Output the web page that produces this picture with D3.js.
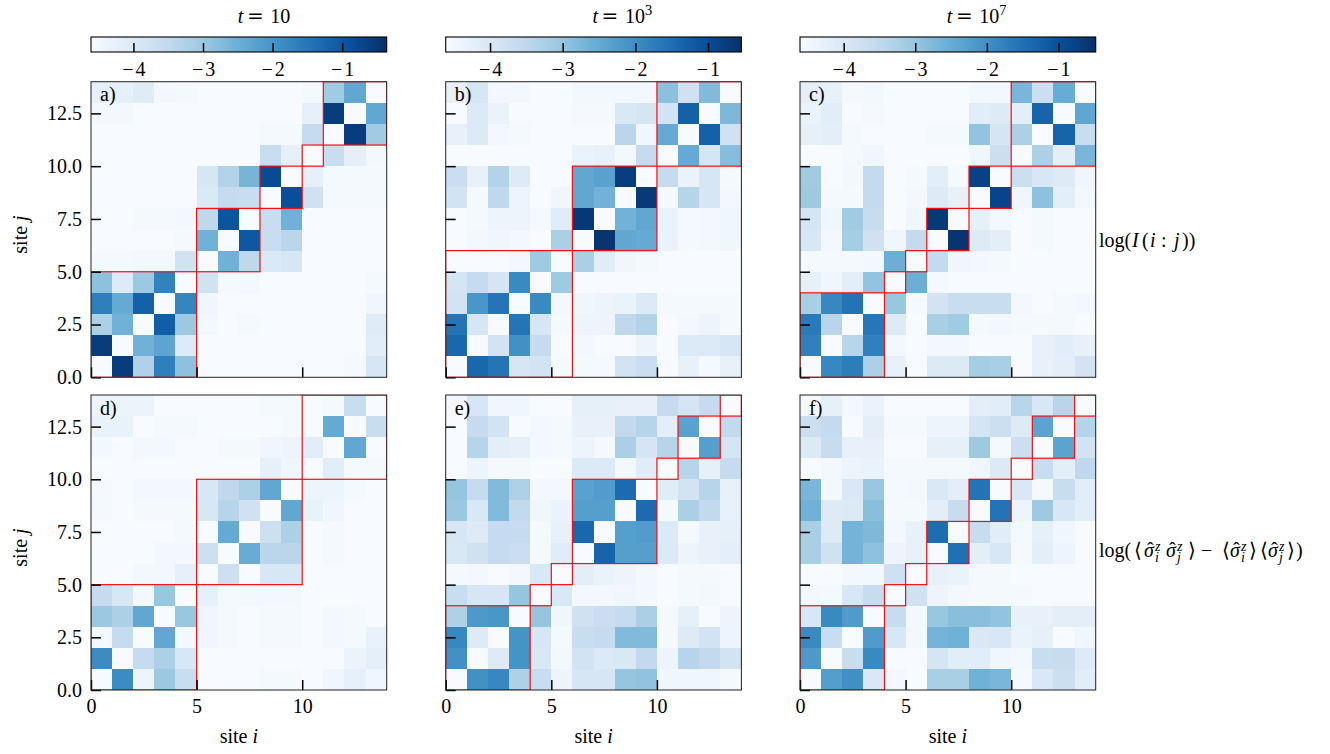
<!DOCTYPE html>
<html>
<head>
<meta charset="utf-8">
<script src="https://cdnjs.cloudflare.com/ajax/libs/d3/7.8.5/d3.min.js"></script>
<style>
  body { margin: 0; background: #fff; }
  text { font-family: "Liberation Serif", serif; fill: #000; }
</style>
</head>
<body>
<div id="chart"></div>
<script>
// log values per panel, rows from j=13 (top) down to j=0 (bottom)
const panelA = [
  [-4.25,-4.25,-4.1,-4.5,-4.55,-4.6,-4.6,-4.6,-4.6,-4.6,-4.55,-3.05,-2.35,-4.6],
  [-4.5,-4.5,-4.6,-4.6,-4.6,-4.6,-4.6,-4.6,-4.6,-4.6,-4.25,-0.55,-4.6,-2.35],
  [-4.6,-4.6,-4.6,-4.6,-4.6,-4.6,-4.6,-4.6,-4.55,-4.55,-3.55,-4.6,-0.55,-3.05],
  [-4.6,-4.6,-4.6,-4.6,-4.6,-4.6,-4.6,-4.6,-3.6,-4.25,-4.6,-3.6,-4.2,-4.5],
  [-4.6,-4.6,-4.6,-4.6,-4.6,-3.9,-3.3,-2.6,-0.8,-4.6,-4.25,-4.55,-4.55,-4.55],
  [-4.6,-4.6,-4.6,-4.6,-4.6,-4.0,-3.55,-3.6,-4.6,-0.85,-3.75,-4.55,-4.55,-4.55],
  [-4.6,-4.6,-4.55,-4.55,-4.5,-3.45,-0.95,-4.6,-3.6,-2.55,-4.6,-4.6,-4.6,-4.6],
  [-4.6,-4.6,-4.6,-4.6,-4.55,-2.55,-4.6,-1.0,-3.6,-3.4,-4.6,-4.6,-4.6,-4.6],
  [-4.55,-4.55,-4.5,-4.5,-3.8,-4.6,-2.55,-3.45,-4.0,-3.9,-4.6,-4.6,-4.6,-4.6],
  [-2.85,-4.05,-3.0,-1.7,-4.6,-3.8,-4.55,-4.5,-4.6,-4.6,-4.6,-4.6,-4.6,-4.55],
  [-1.65,-2.4,-1.15,-4.6,-1.75,-4.45,-4.6,-4.6,-4.6,-4.6,-4.6,-4.6,-4.6,-4.45],
  [-3.2,-2.55,-4.6,-1.1,-3.0,-4.5,-4.6,-4.55,-4.6,-4.6,-4.6,-4.6,-4.6,-4.1],
  [-0.55,-4.6,-2.55,-2.3,-4.05,-4.6,-4.6,-4.6,-4.6,-4.6,-4.6,-4.6,-4.6,-4.15],
  [-4.6,-0.55,-3.25,-1.65,-2.85,-4.6,-4.6,-4.6,-4.6,-4.6,-4.6,-4.6,-4.55,-3.9]
];
const panelB = [
  [-4.3,-3.95,-4.5,-4.5,-4.6,-4.6,-4.5,-4.5,-4.5,-4.5,-2.9,-3.8,-2.8,-4.6],
  [-4.6,-4.05,-4.35,-4.6,-4.6,-4.6,-4.55,-4.55,-4.0,-3.9,-3.85,-1.3,-4.6,-2.75],
  [-4.3,-4.05,-4.5,-4.55,-4.6,-4.6,-4.6,-4.6,-3.45,-4.45,-2.5,-4.6,-1.3,-3.8],
  [-4.6,-4.6,-4.6,-4.6,-4.6,-4.6,-4.35,-4.3,-4.5,-3.6,-4.6,-2.5,-3.9,-2.85],
  [-3.7,-4.3,-3.35,-4.1,-4.6,-4.6,-2.45,-2.35,-0.75,-4.6,-3.6,-4.35,-3.95,-4.55],
  [-3.85,-4.55,-3.5,-4.4,-4.6,-4.45,-2.45,-2.65,-4.6,-0.7,-4.55,-3.4,-3.95,-4.5],
  [-4.6,-4.55,-4.4,-4.4,-4.55,-4.15,-0.65,-4.6,-2.65,-2.45,-4.35,-4.55,-4.5,-4.45],
  [-4.6,-4.5,-4.45,-4.5,-4.6,-3.25,-4.6,-0.6,-2.45,-2.5,-4.35,-4.55,-4.5,-4.45],
  [-4.6,-4.6,-4.6,-4.5,-3.1,-4.6,-3.25,-4.15,-4.45,-4.55,-4.6,-4.6,-4.6,-4.6],
  [-3.9,-3.6,-3.9,-1.95,-4.6,-3.1,-4.6,-4.6,-4.6,-4.6,-4.6,-4.6,-4.6,-4.6],
  [-3.85,-2.15,-1.6,-4.6,-1.95,-4.5,-4.45,-4.4,-4.35,-4.05,-4.55,-4.55,-4.55,-4.55],
  [-1.6,-3.95,-4.6,-1.6,-3.95,-4.55,-4.4,-4.4,-3.5,-3.35,-4.6,-4.5,-4.4,-4.55],
  [-1.4,-4.6,-3.85,-2.05,-3.6,-4.6,-4.5,-4.6,-4.6,-4.4,-4.6,-4.05,-4.05,-3.95],
  [-4.6,-1.4,-1.6,-3.95,-3.85,-4.55,-4.55,-4.55,-3.85,-3.7,-4.6,-4.3,-4.55,-4.3]
];
const panelC = [
  [-4.2,-4.3,-4.55,-4.5,-4.6,-4.6,-4.6,-4.6,-4.5,-4.5,-2.7,-3.7,-2.5,-4.6],
  [-4.35,-4.15,-4.6,-4.55,-4.6,-4.6,-4.6,-4.6,-4.15,-4.1,-4.2,-1.3,-4.6,-2.4],
  [-4.25,-4.2,-4.55,-4.6,-4.6,-4.6,-4.55,-4.55,-2.95,-3.9,-3.25,-4.6,-1.3,-3.65],
  [-4.6,-4.6,-4.55,-4.45,-4.6,-4.6,-4.6,-4.6,-4.45,-3.7,-4.6,-3.25,-4.2,-2.7],
  [-3.1,-4.6,-4.5,-3.55,-4.6,-4.55,-4.2,-4.55,-0.75,-4.6,-3.7,-3.95,-4.1,-4.45],
  [-3.05,-4.55,-4.55,-3.55,-4.6,-4.5,-4.1,-4.3,-4.6,-0.8,-4.45,-2.9,-4.2,-4.5],
  [-3.9,-4.45,-3.1,-3.6,-4.6,-4.45,-0.6,-4.6,-4.25,-4.5,-4.6,-4.55,-4.6,-4.6],
  [-3.95,-4.5,-3.15,-3.8,-4.45,-3.55,-4.6,-0.55,-4.1,-4.2,-4.6,-4.55,-4.6,-4.6],
  [-4.55,-4.55,-4.55,-4.5,-2.55,-4.6,-3.55,-4.45,-4.5,-4.55,-4.6,-4.6,-4.6,-4.6],
  [-4.25,-4.45,-4.2,-2.95,-4.6,-2.55,-4.55,-4.6,-4.6,-4.6,-4.6,-4.6,-4.6,-4.6],
  [-3.2,-1.85,-1.55,-4.6,-3.0,-4.55,-3.85,-3.65,-3.65,-3.65,-4.5,-4.6,-4.55,-4.5],
  [-1.65,-3.4,-4.6,-1.6,-4.1,-4.6,-3.2,-3.1,-4.55,-4.5,-4.55,-4.55,-4.55,-4.6],
  [-1.75,-4.6,-3.4,-1.75,-4.5,-4.6,-4.5,-4.5,-4.6,-4.6,-4.6,-4.3,-4.15,-4.3],
  [-4.6,-1.85,-1.7,-3.25,-4.3,-4.6,-4.05,-4.05,-3.15,-3.2,-4.6,-4.3,-4.2,-3.85]
];
const panelD = [
  [-4.4,-4.35,-4.35,-4.6,-4.6,-4.6,-4.6,-4.6,-4.55,-4.55,-4.6,-4.55,-3.6,-4.6],
  [-4.3,-4.3,-4.6,-4.55,-4.55,-4.6,-4.6,-4.6,-4.6,-4.55,-4.6,-2.4,-4.6,-3.6],
  [-4.5,-4.6,-4.5,-4.5,-4.6,-4.6,-4.55,-4.55,-4.45,-4.4,-4.15,-4.6,-2.35,-4.6],
  [-4.6,-4.6,-4.6,-4.6,-4.6,-4.6,-4.6,-4.6,-4.25,-4.45,-4.6,-4.15,-4.55,-4.55],
  [-4.55,-4.6,-4.5,-4.5,-4.5,-3.95,-3.45,-3.2,-2.35,-4.6,-4.4,-4.4,-4.55,-4.6],
  [-4.55,-4.6,-4.55,-4.55,-4.55,-3.95,-3.35,-3.75,-4.6,-2.35,-4.3,-4.45,-4.6,-4.6],
  [-4.6,-4.6,-4.6,-4.6,-4.55,-4.6,-2.4,-4.6,-3.7,-3.2,-4.6,-4.55,-4.6,-4.6],
  [-4.6,-4.6,-4.6,-4.5,-4.5,-3.7,-4.6,-2.45,-3.4,-3.4,-4.6,-4.55,-4.6,-4.6],
  [-4.6,-4.6,-4.5,-4.5,-4.25,-4.6,-3.7,-4.6,-3.95,-3.95,-4.6,-4.6,-4.6,-4.6],
  [-3.55,-3.95,-4.5,-2.95,-4.6,-4.25,-4.55,-4.5,-4.5,-4.5,-4.6,-4.6,-4.6,-4.6],
  [-3.0,-3.2,-2.35,-4.6,-2.95,-4.45,-4.55,-4.6,-4.55,-4.55,-4.6,-4.5,-4.55,-4.6],
  [-4.5,-3.55,-4.6,-2.35,-4.5,-4.45,-4.55,-4.6,-4.55,-4.55,-4.6,-4.5,-4.55,-4.3],
  [-1.85,-4.6,-3.55,-3.2,-3.95,-4.6,-4.6,-4.6,-4.6,-4.6,-4.6,-4.6,-4.35,-4.2],
  [-4.6,-1.85,-4.4,-3.0,-3.6,-4.6,-4.6,-4.6,-4.55,-4.55,-4.6,-4.45,-4.25,-4.45]
];
const panelE = [
  [-4.5,-3.95,-4.45,-4.45,-4.6,-4.6,-4.25,-4.25,-4.3,-4.3,-3.6,-3.9,-3.6,-4.6],
  [-4.6,-3.6,-3.85,-4.6,-4.5,-4.55,-4.3,-4.3,-3.55,-3.4,-4.2,-2.35,-4.6,-3.55],
  [-4.6,-3.4,-4.2,-4.25,-4.5,-4.55,-4.4,-4.55,-3.25,-3.9,-3.4,-4.6,-2.3,-3.9],
  [-4.6,-4.4,-4.55,-4.55,-4.6,-4.6,-4.05,-4.05,-4.5,-4.15,-4.6,-3.4,-4.25,-3.6],
  [-3.0,-3.6,-2.8,-3.3,-4.5,-4.5,-2.35,-2.25,-1.45,-4.6,-4.15,-3.85,-3.4,-4.3],
  [-3.05,-4.0,-2.8,-3.55,-4.45,-4.35,-2.3,-2.3,-4.6,-1.45,-4.55,-3.25,-3.55,-4.3],
  [-3.95,-4.1,-3.6,-3.6,-4.55,-4.3,-1.4,-4.6,-2.3,-2.25,-4.05,-4.55,-4.3,-4.25],
  [-4.0,-3.8,-3.6,-3.7,-4.55,-4.15,-4.6,-1.35,-2.3,-2.3,-4.05,-4.4,-4.3,-4.2],
  [-4.55,-4.5,-4.6,-4.5,-4.0,-4.6,-4.2,-4.35,-4.4,-4.5,-4.6,-4.55,-4.55,-4.6],
  [-3.65,-3.95,-3.95,-3.0,-4.6,-4.0,-4.5,-4.5,-4.45,-4.5,-4.6,-4.55,-4.5,-4.6],
  [-3.3,-2.2,-2.15,-4.6,-3.0,-4.45,-3.8,-3.7,-3.6,-3.25,-4.55,-4.25,-4.6,-4.4],
  [-1.9,-4.1,-4.6,-2.1,-3.95,-4.55,-3.65,-3.6,-2.8,-2.8,-4.55,-4.1,-3.85,-4.4],
  [-2.05,-4.6,-4.1,-2.1,-4.0,-4.5,-3.85,-4.05,-4.0,-3.55,-4.4,-3.4,-3.55,-3.85],
  [-4.6,-2.05,-1.9,-3.3,-3.65,-4.4,-3.95,-3.95,-3.0,-2.95,-4.45,-4.45,-4.45,-4.55]
];
const panelF = [
  [-4.5,-4.25,-4.5,-4.35,-4.6,-4.6,-4.6,-4.6,-4.2,-4.15,-3.4,-3.95,-3.4,-4.6],
  [-3.7,-3.55,-4.6,-4.2,-4.55,-4.55,-4.4,-4.4,-3.9,-3.7,-4.1,-2.35,-4.6,-3.35],
  [-4.05,-3.6,-4.3,-4.3,-4.6,-4.6,-4.25,-4.25,-3.05,-4.55,-3.7,-4.6,-2.35,-3.85],
  [-4.6,-4.5,-4.4,-4.35,-4.55,-4.55,-4.55,-4.55,-4.45,-4.05,-4.6,-3.65,-4.2,-3.5],
  [-2.7,-4.5,-4.0,-3.0,-4.55,-4.5,-4.0,-4.2,-1.55,-4.6,-4.0,-4.55,-3.65,-4.15],
  [-2.6,-4.1,-4.05,-2.85,-4.55,-4.55,-4.2,-3.6,-4.6,-1.55,-4.4,-3.05,-3.95,-4.15],
  [-3.2,-4.1,-2.65,-2.75,-4.5,-4.3,-1.45,-4.6,-3.6,-4.15,-4.55,-4.25,-4.45,-4.6],
  [-3.2,-3.8,-2.65,-2.9,-4.4,-4.3,-4.6,-1.5,-4.2,-3.95,-4.55,-4.2,-4.4,-4.6],
  [-4.6,-4.6,-4.5,-4.5,-3.75,-4.6,-4.3,-4.35,-4.55,-4.55,-4.6,-4.6,-4.6,-4.6],
  [-4.5,-4.55,-3.95,-3.6,-4.6,-3.8,-4.4,-4.5,-4.55,-4.55,-4.55,-4.6,-4.6,-4.6],
  [-3.95,-1.9,-2.2,-4.6,-3.6,-4.5,-3.0,-2.85,-2.85,-2.95,-4.3,-4.3,-4.2,-4.2],
  [-1.9,-3.65,-4.6,-2.2,-3.95,-4.5,-2.65,-2.6,-4.0,-3.95,-4.35,-4.25,-4.6,-4.45],
  [-2.15,-4.6,-3.65,-1.9,-4.6,-4.6,-3.9,-4.15,-4.15,-4.45,-4.5,-3.65,-3.6,-4.1],
  [-4.6,-2.25,-2.0,-4.0,-4.5,-4.6,-3.2,-3.2,-2.6,-2.7,-4.55,-4.0,-3.7,-4.15]
];

// block boundaries for the red outlines
const blocksA = [0, 5, 8, 10, 11, 14];
const blocksB = [0, 6, 10, 14];
const blocksC = [0, 4, 5, 6, 8, 10, 14];
const blocksD = [0, 5, 10, 14];
const blocksE = [0, 4, 5, 6, 10, 11, 13, 14];
const blocksF = [0, 4, 5, 6, 8, 10, 11, 13, 14];

const panelNames = ["a)", "b)", "c)", "d)", "e)", "f)"];
const xTicks = [0, 5, 10];
const yTicks = [0, 2.5, 5, 7.5, 10, 12.5];
const cbarTicks = [-4, -3, -2, -1];
const cbarMin = [-4.61, -4.61, -4.61];
const cbarMax = [-0.36, -0.54, -0.48];
const titleExp = [null, "3", "7"];

const fontSize = 20;
const nSites = 14;
const colLeft = [91, 445.7, 800];
const colWidth = 295.7;
const rowTop = [81.7, 395];
const rowHeight = [295.6, 295];

const svg = d3.select("#chart").append("svg")
  .attr("width", 1330)
  .attr("height", 754)
  .style("display", "block");

// matplotlib's Blues, same brewer stops as d3's 9 class scheme
function blues(vmin, vmax) {
  const stops = d3.schemeBlues[9];
  return d3.scaleLinear()
    .domain(stops.map((c, k) => vmin + (vmax - vmin) * k / 8))
    .range(stops)
    .clamp(true);
}

function styleAxis(g) {
  g.select(".domain").remove();
  g.selectAll(".tick line").attr("stroke", "#000").attr("stroke-width", 1.5);
  g.selectAll(".tick text")
    .attr("font-family", "Liberation Serif")
    .attr("font-size", fontSize)
    .attr("fill", "#000");
}

function drawPanel(values, blocks, col, row, name) {
  const x0 = colLeft[col], y0 = rowTop[row], h = rowHeight[row];
  const x = d3.scaleLinear().domain([0, nSites]).range([x0, x0 + colWidth]);
  const y = d3.scaleLinear().domain([0, nSites]).range([y0 + h, y0]);
  const color = blues(cbarMin[col], cbarMax[col]);
  const clipId = "clip" + col + row;

  svg.append("clipPath").attr("id", clipId).append("rect")
    .attr("x", x0).attr("y", y0).attr("width", colWidth).attr("height", h);

  const cells = [];
  values.forEach((r, k) => r.forEach((v, i) => cells.push({i: i, j: nSites - 1 - k, v: v})));

  svg.append("g").attr("shape-rendering", "crispEdges")
    .selectAll("rect").data(cells).join("rect")
    .attr("x", d => x(d.i))
    .attr("y", d => y(d.j + 1))
    .attr("width", d => x(d.i + 1) - x(d.i))
    .attr("height", d => y(d.j) - y(d.j + 1))
    .attr("fill", d => color(d.v));

  // red outline around every block on the diagonal
  svg.append("g").attr("clip-path", "url(#" + clipId + ")")
    .selectAll("rect").data(d3.pairs(blocks)).join("rect")
    .attr("x", d => x(d[0]))
    .attr("y", d => y(d[1]))
    .attr("width", d => x(d[1]) - x(d[0]))
    .attr("height", d => y(d[0]) - y(d[1]))
    .attr("fill", "none")
    .attr("stroke", "#f50f0f")
    .attr("stroke-width", 1.2);

  svg.append("g")
    .attr("transform", "translate(0," + (y0 + h) + ")")
    .call(d3.axisBottom(x).tickValues(xTicks).tickSize(-10).tickPadding(9)
      .tickFormat(row == 1 ? d3.format("d") : ""))
    .call(styleAxis);

  svg.append("g")
    .attr("transform", "translate(" + x0 + ",0)")
    .call(d3.axisLeft(y).tickValues(yTicks).tickSize(-10).tickPadding(9)
      .tickFormat(col == 0 ? d3.format(".1f") : ""))
    .call(styleAxis);

  svg.append("rect")
    .attr("x", x0).attr("y", y0).attr("width", colWidth).attr("height", h)
    .attr("fill", "none").attr("stroke", "#222").attr("stroke-width", 1);

  svg.append("text")
    .attr("x", x0 + 9)
    .attr("y", y0 + 19.5)
    .attr("font-size", fontSize)
    .text(name);
}

function drawColorbar(col) {
  const x0 = colLeft[col], top = 37, h = 15;
  const x = d3.scaleLinear().domain([cbarMin[col], cbarMax[col]]).range([x0, x0 + colWidth]);
  const color = blues(cbarMin[col], cbarMax[col]);
  const id = "cbar" + col;
  svg.append("linearGradient").attr("id", id)
    .selectAll("stop").data(d3.range(0, 1.001, 0.125)).join("stop")
    .attr("offset", d => d)
    .attr("stop-color", d => color(cbarMin[col] + d * (cbarMax[col] - cbarMin[col])));
  svg.append("rect")
    .attr("x", x0).attr("y", top).attr("width", colWidth).attr("height", h)
    .attr("fill", "url(#" + id + ")");
  svg.append("g")
    .attr("transform", "translate(0," + (top + h) + ")")
    .call(d3.axisBottom(x).tickValues(cbarTicks).tickSize(-9).tickPadding(9.8).tickFormat(d3.format("d")))
    .call(styleAxis)
    .selectAll(".tick text").attr("letter-spacing", 2).attr("dx", 1);
  svg.append("rect")
    .attr("x", x0).attr("y", top).attr("width", colWidth).attr("height", h)
    .attr("fill", "none").attr("stroke", "#000").attr("stroke-width", 1.1);
}

function drawTitle(col) {
  const t = svg.append("text")
    .attr("x", colLeft[col] + colWidth / 2 - 1)
    .attr("y", 22.5)
    .attr("font-size", fontSize);
  t.append("tspan").attr("font-style", "italic").text("t");
  t.append("tspan").attr("dx", 3.5).attr("font-family", "DejaVu Serif").text("=");
  t.append("tspan").attr("dx", 6.5).text("10");
  if (titleExp[col]) {
    t.append("tspan").attr("font-size", 14.5).attr("dy", -8).text(titleExp[col]);
  }
}

// one text element, every piece placed at its own offset from x
function drawMath(x, y, pieces) {
  const t = svg.append("text").attr("x", x).attr("y", y).attr("font-size", fontSize);
  pieces.forEach(p => {
    t.append("tspan")
      .attr("x", x + p.at)
      .attr("y", y + (p.dy || 0))
      .attr("font-style", p.it ? "italic" : "normal")
      .attr("font-size", p.small ? 14 : fontSize)
      .text(p.t);
  });
}

// hatted sigma with z on top and the site index below
function sigma(at, site) {
  return [
    {t: "σ", it: true, at: at},
    {t: "ˆ", at: at + 3, dy: -0.5},
    {t: "z", it: true, small: true, at: at + 11, dy: -6.5},
    {t: site, it: true, small: true, at: at + 11, dy: 5}
  ];
}

[panelA, panelB, panelC, panelD, panelE, panelF].forEach((values, k) => {
  const blocks = [blocksA, blocksB, blocksC, blocksD, blocksE, blocksF][k];
  drawPanel(values, blocks, k % 3, k < 3 ? 0 : 1, panelNames[k]);
});
[0, 1, 2].forEach(c => { drawColorbar(c); drawTitle(c); });

// axis labels
colLeft.forEach(x0 => {
  const t = svg.append("text").attr("x", x0 + colWidth / 2).attr("y", 743)
    .attr("text-anchor", "middle").attr("font-size", fontSize);
  t.append("tspan").text("site ");
  t.append("tspan").attr("font-style", "italic").text("i");
});
rowTop.forEach((y0, r) => {
  const t = svg.append("text")
    .attr("transform", "translate(26.5," + (y0 + rowHeight[r] / 2 + 5) + ") rotate(-90)")
    .attr("text-anchor", "middle").attr("font-size", fontSize);
  t.append("tspan").text("site ");
  t.append("tspan").attr("font-style", "italic").text("j");
});

drawMath(1099, 247, [
  {t: "log(", at: 0}, {t: "I", it: true, at: 33}, {t: "(", at: 43}, {t: "i", it: true, at: 51},
  {t: ":", at: 62}, {t: "j", it: true, at: 75}, {t: "))", at: 83}
]);
drawMath(1099, 557, [
  {t: "log(", at: 0}, {t: "⟨", at: 35},
  ...sigma(45, "i"), ...sigma(67, "j"),
  {t: "⟩", at: 89}, {t: "−", at: 102}, {t: "⟨", at: 123},
  ...sigma(131, "i"),
  {t: "⟩", at: 150}, {t: "⟨", at: 161},
  ...sigma(169, "j"),
  {t: "⟩", at: 188}, {t: ")", at: 197}
]);
</script>
</body>
</html>
